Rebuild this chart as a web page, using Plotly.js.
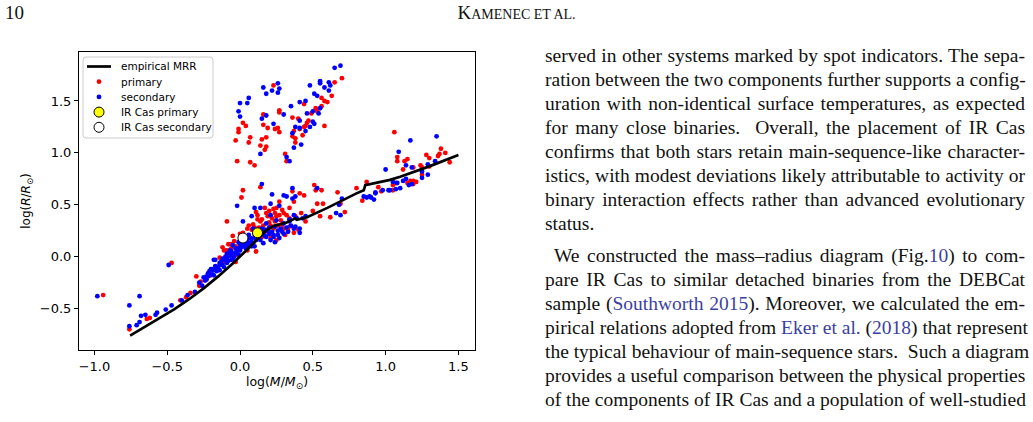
<!DOCTYPE html>
<html>
<head>
<meta charset="utf-8">
<script src="https://cdn.plot.ly/plotly-3.0.1.min.js"></script>
<style>
  html, body { margin: 0; padding: 0; background: #fff; }
  #page { position: relative; width: 1033px; height: 422px; overflow: hidden; }
  #chart { position: absolute; left: 0; top: 0; width: 1033px; height: 422px; }
  .serif { font-family: "Liberation Serif", "Times New Roman", serif; color: #111; }
  #folio { position: absolute; left: 5px; top: 2px; font-size: 19px; }
  #runhead { position: absolute; left: 0; width: 1033px; top: 2px; text-align: center; font-size: 19px; }
  #runhead .sc { font-size: 14px; }
  #column { position: absolute; left: 545px; top: 44px; width: 480px; font-size: 19.5px; line-height: 24px; }
  #column .ln { text-align: justify; text-align-last: justify; white-space: nowrap; }
  #column .end { text-align: left; text-align-last: left; }
  #column .par { margin-top: 8px; padding-left: 9px; }
  #column .ref { color: #3b3fa3; font-size: 19.5px; }
</style>
</head>
<body>
<div id="page">
  <div id="chart"></div>
  <div id="folio" class="serif">10</div>
  <div id="runhead" class="serif">K<span class="sc">AMENEC ET AL.</span></div>
  <div id="column" class="serif">
    <div class="ln">served in other systems marked by spot indicators. The sepa-</div>
    <div class="ln">ration between the two components further supports a config-</div>
    <div class="ln">uration with non-identical surface temperatures, as expected</div>
    <div class="ln">for many close binaries.&nbsp; Overall, the placement of IR Cas</div>
    <div class="ln">confirms that both stars retain main-sequence-like character-</div>
    <div class="ln">istics, with modest deviations likely attributable to activity or</div>
    <div class="ln">binary interaction effects rather than advanced evolutionary</div>
    <div class="ln end">status.</div>
    <div class="ln par">We constructed the mass–radius diagram (Fig.<span class="ref">10</span>) to com-</div>
    <div class="ln">pare IR Cas to similar detached binaries from the DEBCat</div>
    <div class="ln">sample (<span class="ref">Southworth 2015</span>). Moreover, we calculated the em-</div>
    <div class="ln">pirical relations adopted from <span class="ref">Eker et al.</span> (<span class="ref">2018</span>) that represent</div>
    <div class="ln">the typical behaviour of main-sequence stars.&nbsp; Such a diagram</div>
    <div class="ln">provides a useful comparison between the physical properties</div>
    <div class="ln">of the components of IR Cas and a population of well-studied</div>
  </div>
</div>
<script>
// Empirical main-sequence mass–radius relation (log M, log R)
const mrrX = [-0.755, -0.65, -0.55, -0.45, -0.35, -0.25, -0.15, -0.05, 0.05, 0.18,
              0.23, 0.32, 0.38, 0.39, 0.46, 0.60, 0.80, 0.85, 0.86, 1.03, 1.10, 1.30, 1.50];
const mrrY = [-0.76, -0.675, -0.59, -0.505, -0.41, -0.305, -0.19, -0.065, 0.07, 0.255,
              0.295, 0.33, 0.37, 0.355, 0.38, 0.47, 0.61, 0.64, 0.69, 0.74, 0.77, 0.87, 0.98];

// DEBCat primaries (log M, log R)
const primaryX = [
  0.70, 0.65, 0.23, 0.63, 0.56, 0.58, 0.60, 0.56, 0.44, 0.52, 0.53, 0.49, 0.27, 0.27, 0.16, 0.36, 0.40, 0.47, 0.46, 0.45,
  0.58, 0.44, 0.41, 0.26, 0.24, 0.16, 0.19, 0.27, 0.37, 0.43, 0.36, 0.38, 0.18, 0.15, 0.07, 0.02, 0.04, -0.01, -0.01, -0.03,
  0.06, 0.38, 0.14, 0.18, 0.17, 0.31, 0.32, -0.02, 0.07, 0.10,
  1.06, 1.08, 1.08, 1.13, 1.15, 1.12, 1.19, 1.24, 1.25, 1.28, 1.30, 1.38, 1.37, 1.36, 1.41, 1.44, 1.30, 1.25, 1.17, 1.19,
  1.21, 1.15, 1.19, 1.07, 0.95, 0.97, 1.05,
  0.80, 0.87, 1.05, 0.84, 0.72, 0.62, 0.55, 0.57, 0.50, 0.51, 0.56, 0.67, 0.69, 0.41, 0.36, 0.27, 0.29, 0.42, 0.38, 0.25,
  0.31, 0.33, 0.18, 0.22, 0.02, 0.14, 0.23, 0.40, 0.37,
  -0.09, 0.01, 0.44, 0.18, 0.11, 0.24, 0.37, 0.34, 0.25, 0.30, 0.22, 0.14, 0.09, 0.08, 0.15, 0.21, 0.25, 0.17, -0.08, -0.06,
  -0.11, -0.14, -0.10, -0.02, 0.05, -0.16, -0.11, -0.30, -0.20, 0.34, 0.45, 0.52, 0.53, 0.34, 0.02, 0.11, -0.03,
  -0.94, -0.76, -0.64, -0.62, -0.47, -0.28, -0.34, -0.41, -0.37, -0.09, -0.06, -0.27,
  0.12, 0.16, 0.20, 0.26, 0.28, 0.19, 0.10, 0.06, 0.23, 0.13, 0.30, -0.04, -0.12, -0.05,
  0.21, 0.15, 0.24, 0.27, 0.32, 0.20, 0.12, 0.05, 0.00, -0.03, 0.29, 0.17
];
const primaryY = [
  1.72, 1.68, 1.65, 1.55, 1.53, 1.50, 1.49, 1.45, 1.47, 1.43, 1.40, 1.38, 1.41, 1.39, 1.37, 1.34, 1.33, 1.31, 1.29, 1.26,
  1.26, 1.25, 1.23, 1.24, 1.23, 1.27, 1.24, 1.20, 1.21, 1.17, 1.16, 1.14, 1.15, 1.13, 1.15, 1.29, 1.26, 1.23, 1.20, 1.12,
  1.10, 1.10, 1.07, 1.06, 1.03, 0.99, 0.92, 0.92, 0.91, 0.88,
  1.20, 0.96, 0.92, 0.92, 0.94, 0.84, 0.86, 0.88, 0.86, 0.98, 0.95, 1.04, 0.99, 0.97, 1.00, 0.91, 0.87, 0.79, 0.73, 0.73,
  0.72, 0.71, 0.70, 0.71, 0.67, 0.63, 0.64,
  0.66, 0.72, 0.69, 0.54, 0.43, 0.38, 0.39, 0.51, 0.44, 0.69, 0.64, 0.62, 0.51, 0.61, 0.63, 0.53, 0.45, 0.42, 0.39, 0.39,
  0.21, 0.25, 0.25, 0.19, 0.64, 0.67, 0.46, 0.26, 0.23,
  0.34, 0.57, 0.59, 0.42, 0.43, 0.42, 0.53, 0.47, 0.47, 0.42, 0.37, 0.34, 0.31, 0.26, 0.19, 0.18, 0.16, 0.24, 0.12, 0.12,
  0.06, -0.01, -0.02, 0.02, 0.06, -0.10, -0.05, -0.19, -0.18, 0.29, 0.34, 0.64, 0.51, 0.37, 0.23, 0.05, -0.05,
  -0.37, -0.70, -0.60, -0.59, -0.06, -0.28, -0.35, -0.42, -0.39, 0.06, 0.08, -0.24,
  0.36, 0.30, 0.33, 0.30, 0.35, 0.39, 0.28, 0.30, 0.27, 0.28, 0.27, 0.15, 0.09, 0.20,
  0.30, 0.36, 0.34, 0.40, 0.40, 0.44, 0.40, 0.27, 0.22, 0.10, 0.31, 0.47
];

// DEBCat secondaries (log M, log R)
const secondaryX = [
  0.69, 0.65, 0.55, 0.55, 0.61, 0.62, 0.58, 0.61, 0.48, 0.51, 0.53, 0.26, 0.27, 0.22, 0.26, 0.16, 0.18, 0.06, 0.05, 0.00,
  -0.01, 0.00, 0.41, 0.45, 0.35, 0.30, 0.15, 0.18, 0.46, 0.50, 0.54, 0.55, 0.50, 0.51, 0.48, 0.41, 0.38, 0.41, 0.45, 0.36,
  0.23, 0.42, 0.37, 0.14, 0.32, 0.34,
  1.35, 1.17, 1.09, 1.00, 1.14, 1.18, 1.29, 1.34, 1.25, 1.29, 1.25, 1.14, 1.12, 1.05, 1.08, 1.16, 1.18, 1.07, 1.10, 1.03,
  1.02, 0.98, 0.93, 0.93, 0.90, 0.92,
  0.15, 0.36, 0.30, 0.32, 0.36, 0.22, 0.27, 0.21, 0.10, 0.14, 0.02, 0.70, 0.68, 0.66, 0.69, 0.85, 0.87, 0.89, 0.53, 0.37,
  0.43, 0.34, 0.38, 0.41, 0.41, 0.24, 0.23,
  -0.02, 0.08, 0.38, 0.21, 0.18, 0.25, 0.30, 0.34, 0.39, 0.45, 0.37, 0.33, 0.23, 0.21, 0.16, 0.11, 0.07, 0.02, 0.00, -0.02,
  -0.07, -0.09, -0.05, -0.11, -0.14, -0.16, -0.18, -0.21, -0.23, -0.18, 0.11, 0.15, 0.09, 0.06, 0.03, -0.01, -0.05, -0.08,
  -0.11, -0.14,
  -0.98, -0.69, -0.76, -0.68, -0.65, -0.71, -0.69, -0.76, -0.57, -0.58, -0.51, -0.47, -0.49, -0.40, -0.36, -0.31, -0.26, -0.23,
  -0.18, -0.17, -0.14, -0.22, -0.19, -0.16, -0.09, -0.07, 0.05, 0.09,
  -0.25, -0.22, -0.19, -0.17, -0.13, -0.12, -0.09, -0.07, -0.05, -0.03, -0.01, 0.01, 0.03, 0.05, 0.06, 0.08, 0.10, 0.12,
  0.13, 0.16, 0.17, 0.19, 0.20, 0.14, 0.08, 0.04, -0.04, -0.06, 0.18, 0.22, 0.26, 0.28, 0.24, 0.30, 0.27, 0.32,
  -0.28, -0.24, -0.21, -0.20, -0.15, -0.12, -0.10, -0.06, -0.03, 0.00, 0.04, 0.07, 0.10, 0.13, 0.17, 0.20, 0.26, 0.29,
  0.35, 0.10, -0.08, -0.01
];
const secondaryY = [
  1.84, 1.82, 1.69, 1.67, 1.68, 1.65, 1.63, 1.60, 1.65, 1.57, 1.55, 1.67, 1.62, 1.60, 1.58, 1.63, 1.57, 1.53, 1.48, 1.48,
  1.40, 1.35, 1.49, 1.50, 1.45, 1.37, 1.33, 1.36, 1.38, 1.40, 1.38, 1.43, 1.30, 1.28, 1.25, 1.31, 1.25, 1.24, 1.21, 1.19,
  1.28, 1.08, 1.05, 0.99, 0.96, 0.92,
  1.16, 1.12, 1.01, 0.84, 0.88, 0.86, 0.89, 0.92, 0.82, 0.79, 0.76, 0.75, 0.73, 0.72, 0.71, 0.69, 0.70, 0.65, 0.66, 0.64,
  0.64, 0.64, 0.62, 0.61, 0.57, 0.55,
  0.70, 0.66, 0.59, 0.58, 0.56, 0.60, 0.49, 0.51, 0.47, 0.47, 0.34, 0.56, 0.50, 0.42, 0.40, 0.58, 0.57, 0.58, 0.66, 0.40,
  0.37, 0.36, 0.29, 0.27, 0.23, 0.14, 0.19,
  0.49, 0.39, 0.58, 0.40, 0.32, 0.35, 0.32, 0.34, 0.37, 0.39, 0.27, 0.24, 0.21, 0.16, 0.13, 0.16, 0.13, 0.11, 0.06, 0.06,
  0.06, 0.03, -0.02, -0.03, -0.06, -0.11, -0.13, -0.14, -0.19, -0.03, 0.23, 0.27, 0.27, 0.21, 0.18, 0.14, 0.11, 0.02,
  -0.10, -0.13,
  -0.38, -0.38, -0.47, -0.57, -0.56, -0.66, -0.63, -0.67, -0.54, -0.56, -0.51, -0.47, -0.08, -0.42, -0.37, -0.34, -0.28, -0.22,
  -0.18, -0.03, -0.08, -0.19, -0.17, -0.14, -0.06, 0.03, 0.10, 0.13,
  -0.20, -0.16, -0.12, -0.09, -0.05, -0.08, -0.01, 0.01, 0.03, 0.04, 0.08, 0.09, 0.12, 0.15, 0.13, 0.17, 0.19, 0.20,
  0.24, 0.22, 0.26, 0.25, 0.22, 0.16, 0.10, 0.08, 0.00, -0.03, 0.19, 0.24, 0.21, 0.27, 0.29, 0.22, 0.18, 0.28,
  -0.25, -0.23, -0.18, -0.12, -0.10, -0.02, 0.00, 0.05, 0.08, 0.12, 0.14, 0.18, 0.22, 0.19, 0.20, 0.28, 0.25, 0.24,
  0.30, 0.10, -0.04, 0.02
];

// IR Cas components
const irCasPrimary = { x: [0.12], y: [0.23] };
const irCasSecondary = { x: [0.02], y: [0.18] };

const xTicks = [-1.0, -0.5, 0.0, 0.5, 1.0, 1.5];
const xTickText = ['\u22121.0', '\u22120.5', '0.0', '0.5', '1.0', '1.5'];
const yTicks = [-0.5, 0.0, 0.5, 1.0, 1.5];
const yTickText = ['\u22120.5', '0.0', '0.5', '1.0', '1.5'];

const legendLabels = ['empirical MRR', 'primary', 'secondary', 'IR Cas primary', 'IR Cas secondary'];

const FONT = 'DejaVu Sans, sans-serif';
const RED = '#ff0000', BLUE = '#0000ff', YELLOW = '#ffff00';
const DOT = 4.8, BIG = 10;

const traces = [
  { x: primaryX, y: primaryY, type: 'scatter', mode: 'markers', name: legendLabels[1],
    marker: { color: RED, size: DOT, line: { width: 0 } } },
  { x: secondaryX, y: secondaryY, type: 'scatter', mode: 'markers', name: legendLabels[2],
    marker: { color: BLUE, size: DOT, line: { width: 0 } } },
  { x: mrrX, y: mrrY, type: 'scatter', mode: 'lines', name: legendLabels[0],
    line: { color: '#000000', width: 2.7 } },
  { x: irCasPrimary.x, y: irCasPrimary.y, type: 'scatter', mode: 'markers', name: legendLabels[3],
    marker: { color: YELLOW, size: BIG, line: { color: '#000000', width: 1 } } },
  { x: irCasSecondary.x, y: irCasSecondary.y, type: 'scatter', mode: 'markers', name: legendLabels[4],
    marker: { color: '#ffffff', size: BIG, line: { color: '#000000', width: 1 } } }
];

// Plot-area box in page pixels; legend layout is expressed relative to it.
const PLOT = { l: 79, r: 475, t: 52, b: 350 };
const px = v => (v - PLOT.l) / (PLOT.r - PLOT.l);
const py = v => (PLOT.b - v) / (PLOT.b - PLOT.t);

// Compact legend box with rounded corners
const LEG = { x0: 83, x1: 213, y0: 57, y1: 138, r: 3, rowTop: 66.5, rowGap: 15.2, keyX: 99, keyL: 87, keyR: 111, textX: 119 };
function roundedRect(b) {
  const X0 = px(b.x0), X1 = px(b.x1), Yt = py(b.y0), Yb = py(b.y1);
  const rx = b.r / (PLOT.r - PLOT.l), ry = b.r / (PLOT.b - PLOT.t);
  return `M${X0 + rx},${Yt} L${X1 - rx},${Yt} Q${X1},${Yt} ${X1},${Yt - ry} L${X1},${Yb + ry} Q${X1},${Yb} ${X1 - rx},${Yb} ` +
         `L${X0 + rx},${Yb} Q${X0},${Yb} ${X0},${Yb + ry} L${X0},${Yt - ry} Q${X0},${Yt} ${X0 + rx},${Yt} Z`;
}
const rowY = i => py(LEG.rowTop + i * LEG.rowGap);
function keyDot(i, d, fill, edge) {
  return {
    type: 'circle', xref: 'paper', yref: 'paper', layer: 'above',
    xsizemode: 'pixel', ysizemode: 'pixel', xanchor: px(LEG.keyX), yanchor: rowY(i),
    x0: -d / 2, x1: d / 2, y0: -d / 2, y1: d / 2,
    fillcolor: fill, line: edge ? { color: edge, width: 1 } : { width: 0 }
  };
}
const legendShapes = [
  { type: 'path', xref: 'paper', yref: 'paper', layer: 'above', path: roundedRect(LEG),
    fillcolor: 'rgba(255,255,255,0.8)', line: { color: '#cccccc', width: 1 } },
  { type: 'line', xref: 'paper', yref: 'paper', layer: 'above',
    x0: px(LEG.keyL), x1: px(LEG.keyR), y0: rowY(0), y1: rowY(0), line: { color: '#000', width: 2.7 } },
  keyDot(1, DOT, RED),
  keyDot(2, DOT, BLUE),
  keyDot(3, BIG, YELLOW, '#000'),
  keyDot(4, BIG, '#ffffff', '#000')
];
const legendText = legendLabels.map((t, i) => ({
  text: t, xref: 'paper', yref: 'paper', x: px(LEG.textX), y: rowY(i),
  xanchor: 'left', yanchor: 'middle', showarrow: false,
  font: { family: FONT, size: 10.5, color: '#000' }
}));

// Axis-title pieces: italic symbol and a small lowered solar sign, each with an explicit size
const it = (s, size) => `<span style="font-style:italic;font-size:${size}px">${s}</span>`;
const sun = size => `<span style="font-size:${size}px;baseline-shift:-3px">\u2299</span>`;

const axisCommon = {
  showgrid: false, zeroline: false, showline: true, mirror: true,
  linecolor: '#000', linewidth: 1, ticks: 'outside', ticklen: 4, tickwidth: 1, tickcolor: '#000',
  tickfont: { family: FONT, size: 13, color: '#000' }, automargin: false
};

const layout = {
  width: 1033, height: 422,
  margin: { l: PLOT.l, r: 1033 - PLOT.r, t: PLOT.t, b: 422 - PLOT.b, pad: 0 },
  paper_bgcolor: 'rgba(0,0,0,0)', plot_bgcolor: '#fff',
  showlegend: false,
  xaxis: Object.assign({}, axisCommon, {
    range: [-1.106, 1.614], tickvals: xTicks, ticktext: xTickText,
    title: { text: `log(${it('M', 12.5)}/${it('M', 12.5)}${sun(9)})`, font: { family: FONT, size: 12.5, color: '#000' }, standoff: 4 }
  }),
  yaxis: Object.assign({}, axisCommon, {
    range: [-0.899, 1.972], tickvals: yTicks, ticktext: yTickText,
    title: { text: `log(${it('R', 12)}/${it('R', 12)}${sun(8.5)})`, font: { family: FONT, size: 12, color: '#000' }, standoff: 6 }
  }),
  shapes: legendShapes,
  annotations: legendText
};

Plotly.newPlot('chart', traces, layout, { staticPlot: true, displayModeBar: false });
</script>
</body>
</html>
